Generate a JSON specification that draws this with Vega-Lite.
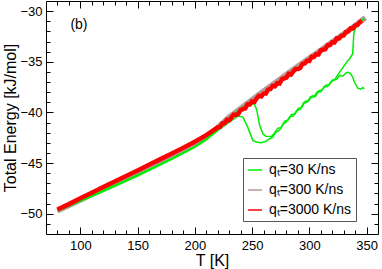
{
"$schema": "https://vega.github.io/schema/vega-lite/v6.json",
"width": 332, "height": 233,
"autosize": {"type": "none"},
"padding": {"left": 46, "top": 1, "right": 4, "bottom": 35},
"config": {
  "view": {"stroke": "#000", "strokeWidth": 1},
  "font": "Liberation Sans",
  "axis": {"domain": false, "grid": false, "labelFont": "Liberation Sans", "labelFontSize": 13, "labelColor": "#000", "tickColor": "#000", "tickWidth": 1, "titleFont": "Liberation Sans", "titleFontSize": 16, "titleFontWeight": "normal", "titleColor": "#000", "labelOverlap": false, "labelFlush": false},
  "legend": {"orient": "none", "legendX": 197, "legendY": 157, "padding": 4, "strokeColor": "#555", "fillColor": "#fff", "rowPadding": 5, "labelFont": "Liberation Sans", "labelFontSize": 14, "labelColor": "#000", "symbolType": "stroke", "symbolSize": 196, "symbolStrokeWidth": 1.5, "labelOffset": 6, "title": null}
},
"datasets": {
  "lines": [
    {"q":3000,"r":"a","T":80,"E":-49.58},{"q":3000,"r":"a","T":90,"E":-49.05},{"q":3000,"r":"a","T":100,"E":-48.48},{"q":3000,"r":"a","T":110,"E":-47.92},{"q":3000,"r":"a","T":120,"E":-47.37},{"q":3000,"r":"a","T":130,"E":-46.81},{"q":3000,"r":"a","T":140,"E":-46.27},{"q":3000,"r":"a","T":150,"E":-45.73},{"q":3000,"r":"a","T":160,"E":-45.17},{"q":3000,"r":"a","T":170,"E":-44.61},{"q":3000,"r":"a","T":180,"E":-44.05},{"q":3000,"r":"a","T":190,"E":-43.49},{"q":3000,"r":"a","T":200,"E":-42.9},{"q":3000,"r":"a","T":210,"E":-42.24},
    {"q":3000,"r":"a","T":220,"E":-41.47},{"q":3000,"r":"a","T":222,"E":-41.43},{"q":3000,"r":"a","T":224,"E":-41.09},{"q":3000,"r":"a","T":226,"E":-41.05},{"q":3000,"r":"a","T":228,"E":-40.73},{"q":3000,"r":"a","T":230,"E":-40.78},{"q":3000,"r":"a","T":232,"E":-40.50},{"q":3000,"r":"a","T":234,"E":-40.21},{"q":3000,"r":"a","T":236,"E":-40.24},{"q":3000,"r":"a","T":238,"E":-40.13},{"q":3000,"r":"a","T":240,"E":-39.77},{"q":3000,"r":"a","T":242,"E":-39.68},{"q":3000,"r":"a","T":244,"E":-39.61},{"q":3000,"r":"a","T":246,"E":-39.21},{"q":3000,"r":"a","T":248,"E":-39.22},{"q":3000,"r":"a","T":250,"E":-38.91},{"q":3000,"r":"a","T":252,"E":-38.96},{"q":3000,"r":"a","T":254,"E":-38.61},{"q":3000,"r":"a","T":256,"E":-38.36},{"q":3000,"r":"a","T":258,"E":-38.42},{"q":3000,"r":"a","T":260,"E":-38.14},{"q":3000,"r":"a","T":262,"E":-38.13},{"q":3000,"r":"a","T":264,"E":-37.75},{"q":3000,"r":"a","T":266,"E":-37.69},{"q":3000,"r":"a","T":268,"E":-37.38},{"q":3000,"r":"a","T":270,"E":-37.42},{"q":3000,"r":"a","T":272,"E":-37.11},{"q":3000,"r":"a","T":274,"E":-37.14},{"q":3000,"r":"a","T":276,"E":-36.73},{"q":3000,"r":"a","T":278,"E":-36.64},{"q":3000,"r":"a","T":280,"E":-36.56},{"q":3000,"r":"a","T":282,"E":-36.20},{"q":3000,"r":"a","T":284,"E":-36.27},{"q":3000,"r":"a","T":286,"E":-35.95},{"q":3000,"r":"a","T":288,"E":-35.72},{"q":3000,"r":"a","T":290,"E":-35.72},{"q":3000,"r":"a","T":292,"E":-35.62},{"q":3000,"r":"a","T":294,"E":-35.21},{"q":3000,"r":"a","T":296,"E":-35.17},{"q":3000,"r":"a","T":298,"E":-34.91},{"q":3000,"r":"a","T":300,"E":-34.92},{"q":3000,"r":"a","T":302,"E":-34.51},{"q":3000,"r":"a","T":304,"E":-34.53},{"q":3000,"r":"a","T":306,"E":-34.26},{"q":3000,"r":"a","T":308,"E":-34.27},{"q":3000,"r":"a","T":310,"E":-33.88},{"q":3000,"r":"a","T":312,"E":-33.81},{"q":3000,"r":"a","T":314,"E":-33.74},{"q":3000,"r":"a","T":316,"E":-33.36},{"q":3000,"r":"a","T":318,"E":-33.35},{"q":3000,"r":"a","T":320,"E":-33.07},{"q":3000,"r":"a","T":322,"E":-33.08},{"q":3000,"r":"a","T":324,"E":-32.68},{"q":3000,"r":"a","T":326,"E":-32.70},{"q":3000,"r":"a","T":328,"E":-32.44},{"q":3000,"r":"a","T":330,"E":-32.40},{"q":3000,"r":"a","T":332,"E":-32.05},{"q":3000,"r":"a","T":334,"E":-32.00},{"q":3000,"r":"a","T":336,"E":-31.69},{"q":3000,"r":"a","T":338,"E":-31.71},{"q":3000,"r":"a","T":340,"E":-31.42},{"q":3000,"r":"a","T":342,"E":-31.36},{"q":3000,"r":"a","T":344,"E":-31.09},{"q":3000,"r":"a","T":346,"E":-30.96},
    {"q":300,"r":"a","T":80,"E":-49.7},{"q":300,"r":"a","T":100,"E":-48.65},{"q":300,"r":"a","T":120,"E":-47.57},{"q":300,"r":"a","T":150,"E":-45.93},{"q":300,"r":"a","T":180,"E":-44.25},{"q":300,"r":"a","T":200,"E":-43.1},{"q":300,"r":"a","T":210,"E":-42.4},{"q":300,"r":"a","T":220,"E":-41.5},{"q":300,"r":"a","T":230,"E":-40.45},{"q":300,"r":"a","T":240,"E":-39.6},{"q":300,"r":"a","T":250,"E":-38.75},{"q":300,"r":"a","T":260,"E":-37.9},{"q":300,"r":"a","T":270,"E":-37.08},{"q":300,"r":"a","T":280,"E":-36.25},{"q":300,"r":"a","T":290,"E":-35.45},{"q":300,"r":"a","T":300,"E":-34.65},{"q":300,"r":"a","T":310,"E":-33.85},{"q":300,"r":"a","T":320,"E":-33.05},{"q":300,"r":"a","T":330,"E":-32.25},{"q":300,"r":"a","T":340,"E":-31.43},{"q":300,"r":"a","T":349,"E":-30.65},
    {"q":30,"r":"a","T":80,"E":-49.74},{"q":30,"r":"a","T":100,"E":-48.78},{"q":30,"r":"a","T":120,"E":-47.8},{"q":30,"r":"a","T":150,"E":-46.27},{"q":30,"r":"a","T":180,"E":-44.62},{"q":30,"r":"a","T":200,"E":-43.45},{"q":30,"r":"a","T":210,"E":-42.72},{"q":30,"r":"a","T":220,"E":-41.8},{"q":30,"r":"a","T":230,"E":-40.95},{"q":30,"r":"a","T":238,"E":-40.35},{"q":30,"r":"a","T":242,"E":-40.46},{"q":30,"r":"a","T":246,"E":-41.4},{"q":30,"r":"a","T":250.7,"E":-42.76},{"q":30,"r":"a","T":253.7,"E":-42.93},{"q":30,"r":"a","T":258,"E":-42.98},{"q":30,"r":"a","T":262,"E":-42.85},{"q":30,"r":"a","T":265.3,"E":-42.6},{"q":30,"r":"a","T":268,"E":-42.45},{"q":30,"r":"a","T":271,"E":-41.95},{"q":30,"r":"a","T":274,"E":-41.75},{"q":30,"r":"a","T":277,"E":-41.15},{"q":30,"r":"a","T":280,"E":-40.95},{"q":30,"r":"a","T":283,"E":-40.4},{"q":30,"r":"a","T":286,"E":-40.35},{"q":30,"r":"a","T":289,"E":-39.8},{"q":30,"r":"a","T":292,"E":-39.7},{"q":30,"r":"a","T":295,"E":-39.05},{"q":30,"r":"a","T":298,"E":-39.0},{"q":30,"r":"a","T":301,"E":-38.45},{"q":30,"r":"a","T":304,"E":-38.5},{"q":30,"r":"a","T":307,"E":-37.95},{"q":30,"r":"a","T":310,"E":-37.95},{"q":30,"r":"a","T":313,"E":-37.45},{"q":30,"r":"a","T":316,"E":-37.45},{"q":30,"r":"a","T":319,"E":-36.95},{"q":30,"r":"a","T":322,"E":-36.8},{"q":30,"r":"a","T":326,"E":-36.1},{"q":30,"r":"a","T":330.7,"E":-35.36},{"q":30,"r":"a","T":333.5,"E":-34.9},{"q":30,"r":"a","T":335,"E":-34.75},{"q":30,"r":"a","T":337.9,"E":-34.2},{"q":30,"r":"a","T":338.8,"E":-32.3},{"q":30,"r":"a","T":340,"E":-31.74},{"q":30,"r":"a","T":343.8,"E":-31.08},{"q":30,"r":"a","T":348.1,"E":-30.72},
    {"q":30,"r":"b","T":80,"E":-49.70},{"q":30,"r":"b","T":100,"E":-48.72},{"q":30,"r":"b","T":120,"E":-47.7},{"q":30,"r":"b","T":150,"E":-46.18},{"q":30,"r":"b","T":180,"E":-44.53},{"q":30,"r":"b","T":200,"E":-43.37},{"q":30,"r":"b","T":210,"E":-42.62},{"q":30,"r":"b","T":220,"E":-41.7},{"q":30,"r":"b","T":230,"E":-40.55},{"q":30,"r":"b","T":240,"E":-39.65},{"q":30,"r":"b","T":247,"E":-39.1},{"q":30,"r":"b","T":252,"E":-39.2},{"q":30,"r":"b","T":254,"E":-39.7},{"q":30,"r":"b","T":256.6,"E":-41.28},{"q":30,"r":"b","T":259.5,"E":-42.1},{"q":30,"r":"b","T":262,"E":-42.35},{"q":30,"r":"b","T":266.8,"E":-42.37},{"q":30,"r":"b","T":269.5,"E":-42.05},{"q":30,"r":"b","T":272.5,"E":-41.55},{"q":30,"r":"b","T":275.5,"E":-41.5},{"q":30,"r":"b","T":278.5,"E":-40.85},{"q":30,"r":"b","T":281.5,"E":-40.75},{"q":30,"r":"b","T":284.5,"E":-40.2},{"q":30,"r":"b","T":287.5,"E":-40.15},{"q":30,"r":"b","T":290.5,"E":-39.6},{"q":30,"r":"b","T":293.5,"E":-39.5},{"q":30,"r":"b","T":296.5,"E":-38.9},{"q":30,"r":"b","T":299.5,"E":-38.85},{"q":30,"r":"b","T":302.5,"E":-38.35},{"q":30,"r":"b","T":305.5,"E":-38.4},{"q":30,"r":"b","T":308.5,"E":-37.85},{"q":30,"r":"b","T":311.5,"E":-37.75},{"q":30,"r":"b","T":314.5,"E":-37.3},{"q":30,"r":"b","T":317.5,"E":-37.25},{"q":30,"r":"b","T":320.5,"E":-36.8},{"q":30,"r":"b","T":323.5,"E":-36.75},{"q":30,"r":"b","T":326.5,"E":-36.35},{"q":30,"r":"b","T":329.5,"E":-36.4},{"q":30,"r":"b","T":331.5,"E":-36.15},{"q":30,"r":"b","T":333.5,"E":-36.05},{"q":30,"r":"b","T":335.6,"E":-36.12},{"q":30,"r":"b","T":337.9,"E":-36.5},{"q":30,"r":"b","T":339.4,"E":-37.0},{"q":30,"r":"b","T":342.3,"E":-37.6},{"q":30,"r":"b","T":345,"E":-37.7},{"q":30,"r":"b","T":346.6,"E":-37.55},{"q":30,"r":"b","T":348.1,"E":-37.66}
  ],
  "note": [{"T": 98.8, "E": -31.4, "txt": "(b)"}]
},
"resolve": {"axis": {"x": "independent", "y": "independent"}},
"layer": [
  {
    "data": {"name": "lines"},
    "transform": [{"filter": "datum.q === 300"}],
    "mark": {"type": "line", "color": "#b49a9a", "strokeWidth": 5.5},
    "encoding": {
      "x": {"field": "T", "type": "quantitative", "scale": {"domain": [70, 360], "nice": false, "zero": false},
            "axis": {"orient": "top", "values": [100,150,200,250,300,350], "offset": -7, "tickSize": 7, "labels": false, "title": null}},
      "y": {"field": "E", "type": "quantitative", "scale": {"domain": [-52, -29], "nice": false, "zero": false},
            "axis": {"orient": "right", "values": [-50,-45,-40,-35,-30], "offset": -7, "tickSize": 7, "labels": false, "title": null}}
    }
  },
  {
    "data": {"name": "lines"},
    "transform": [{"filter": "datum.q === 30"}],
    "mark": {"type": "line", "strokeWidth": 1.5},
    "encoding": {
      "x": {"field": "T", "type": "quantitative", "scale": {"domain": [70, 360], "nice": false, "zero": false},
            "axis": {"orient": "bottom", "values": [100,150,200,250,300,350], "offset": -7, "tickSize": 7, "labelPadding": 5, "title": "T [K]", "titlePadding": 0}},
      "y": {"field": "E", "type": "quantitative", "scale": {"domain": [-52, -29], "nice": false, "zero": false},
            "axis": {"orient": "left", "values": [-50,-45,-40,-35,-30], "offset": -7, "tickSize": 7, "labelPadding": 4, "title": "Total Energy [kJ/mol]", "titlePadding": 1.5}},
      "color": {"field": "q", "type": "nominal", "scale": {"domain": [30, 300, 3000], "range": ["#00ee00", "#b49a9a", "#ff0000"]},
                "legend": {"labelExpr": "'q\u209c=' + datum.label + ' K/ns'"}},
      "detail": {"field": "r", "type": "nominal"}
    }
  },
  {
    "data": {"name": "lines"},
    "transform": [{"filter": "datum.q === 3000"}],
    "mark": {"type": "line", "color": "#ff0000", "strokeWidth": 4.5},
    "encoding": {
      "x": {"field": "T", "type": "quantitative",
            "axis": {"orient": "bottom", "values": [80,90,110,120,130,140,160,170,180,190,210,220,230,240,260,270,280,290,310,320,330,340], "offset": -4, "tickSize": 4, "labels": false, "title": null}},
      "y": {"field": "E", "type": "quantitative",
            "axis": {"orient": "left", "values": [-51,-49,-48,-47,-46,-44,-43,-42,-41,-39,-38,-37,-36,-34,-33,-32,-31], "offset": -4, "tickSize": 4, "labels": false, "title": null}}
    }
  },
  {
    "data": {"name": "note"},
    "mark": {"type": "text", "fontSize": 14, "font": "Liberation Sans", "color": "#000"},
    "encoding": {
      "x": {"field": "T", "type": "quantitative",
            "axis": {"orient": "top", "values": [80,90,110,120,130,140,160,170,180,190,210,220,230,240,260,270,280,290,310,320,330,340], "offset": -4, "tickSize": 4, "labels": false, "title": null}},
      "y": {"field": "E", "type": "quantitative",
            "axis": {"orient": "right", "values": [-51,-49,-48,-47,-46,-44,-43,-42,-41,-39,-38,-37,-36,-34,-33,-32,-31], "offset": -4, "tickSize": 4, "labels": false, "title": null}},
      "text": {"field": "txt"}
    }
  }
]
}
